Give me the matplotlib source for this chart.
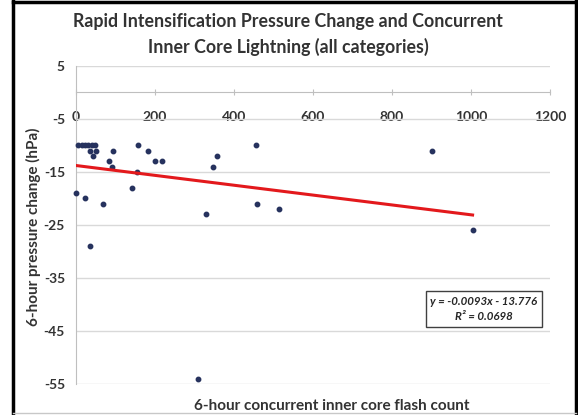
import matplotlib
matplotlib.use('Agg')
import matplotlib.pyplot as plt
from matplotlib.lines import Line2D
import numpy as np

# ---- data ----
flash_count = [6, 14, 23, 31, 40, 48, 35, 51, 44, 94, 84, 92, 156, 183, 200, 217,
               154, 143, 0, 24, 69, 35, 455, 356, 348, 329, 457, 515, 902, 1004, 310]
pressure_change = [-10, -10, -10, -10, -10, -10, -11, -11, -12, -11, -13, -14, -10, -11, -13, -13,
                   -15, -18, -19, -20, -21, -29, -10, -12, -14, -23, -21, -22, -11, -26, -54]
x_ticks = [0, 200, 400, 600, 800, 1000, 1200]
y_ticks = [5, -5, -15, -25, -35, -45, -55]
trend_slope = -0.0093
trend_intercept = -13.776
r_squared = 0.0698

title_lines = ["Rapid Intensification Pressure Change and Concurrent",
               "Inner Core Lightning (all categories)"]
x_label = "6-hour concurrent inner core flash count"
y_label = "6-hour pressure change (hPa)"

FONT = ['Lato', 'DejaVu Sans']
plt.rcParams['font.family'] = FONT

W, H = 578, 415
fig = plt.figure(figsize=(W / 100, H / 100), dpi=100)
fig.patch.set_facecolor('white')

# plot area in pixel coordinates: x 76..550, y 66..384
ax = fig.add_axes([76 / W, 1 - 384 / H, (550 - 76) / W, (384 - 66) / H])
ax.set_xlim(0, 1200)
ax.set_ylim(-55, 5)
ax.set_xticks(x_ticks)
ax.set_yticks(y_ticks)
ax.set_xticklabels([str(v) for v in x_ticks])
ax.set_yticklabels([str(v) for v in y_ticks])
ax.yaxis.grid(True, color='#d9d9d9', lw=1)
ax.set_axisbelow(True)
for s in ['top', 'right']:
    ax.spines[s].set_visible(False)
ax.spines['left'].set_color('#bfbfbf')
ax.spines['bottom'].set_position(('data', 0))
ax.spines['bottom'].set_color('#bfbfbf')
ax.tick_params(axis='y', length=0, pad=8, labelsize=10, labelcolor='#333333')
ax.tick_params(axis='x', direction='inout', length=4, color='#bfbfbf', pad=11.5,
               labelsize=10, labelcolor='#333333')
for lab in ax.get_yticklabels() + ax.get_xticklabels():
    lab.set_fontweight('bold')
for lab in ax.get_xticklabels():
    lab.set_bbox(dict(facecolor='white', edgecolor='none', pad=1))

# scatter points
ax.plot(flash_count, pressure_change, 'o', ms=3.2, color='#26325e', zorder=3, clip_on=False)

# linear trendline
xs = np.array([min(flash_count), max(flash_count)], dtype=float)
ax.plot(xs, trend_slope * xs + trend_intercept, color='#e3191c', lw=2.2, zorder=4)

# titles
fig.text(288 / W, 1 - 22 / H, title_lines[0], ha='center', va='center',
         fontsize=12.8, fontweight='bold', color='#333333')
fig.text(288 / W, 1 - 47 / H, title_lines[1], ha='center', va='center',
         fontsize=12.8, fontweight='bold', color='#333333')
fig.text(332 / W, 1 - 406 / H, x_label, ha='center', va='center',
         fontsize=11, fontweight='bold', color='#333333')
fig.text(33 / W, 1 - 227 / H, y_label, ha='center', va='center', rotation=90,
         fontsize=11, fontweight='bold', color='#333333')

# equation box
fig.text(484 / W, 1 - 309 / H,
         f"y = {trend_slope:.4f}x - {abs(trend_intercept):.3f}\nR\u00b2 = {r_squared:.4f}",
         ha='center', va='center', fontsize=8.3, fontweight='bold', style='italic',
         color='#262626', linespacing=1.45,
         bbox=dict(facecolor='white', edgecolor='#404040', lw=1, boxstyle='square,pad=0.4'))

# outer border
fig.add_artist(Line2D([13 / W, 13 / W], [0, 1 - 1 / H], color='black', lw=2.5, transform=fig.transFigure))
fig.add_artist(Line2D([13 / W, 576 / W], [1 - 2 / H, 1 - 2 / H], color='black', lw=2.5, transform=fig.transFigure))
fig.add_artist(Line2D([576 / W, 576 / W], [0, 1 - 1 / H], color='black', lw=2.5, transform=fig.transFigure))
fig.add_artist(Line2D([13 / W, 576 / W], [1 - 413 / H, 1 - 413 / H], color='#c8c8c8', lw=1, transform=fig.transFigure))

fig.savefig('out.png', dpi=100, facecolor='white')
